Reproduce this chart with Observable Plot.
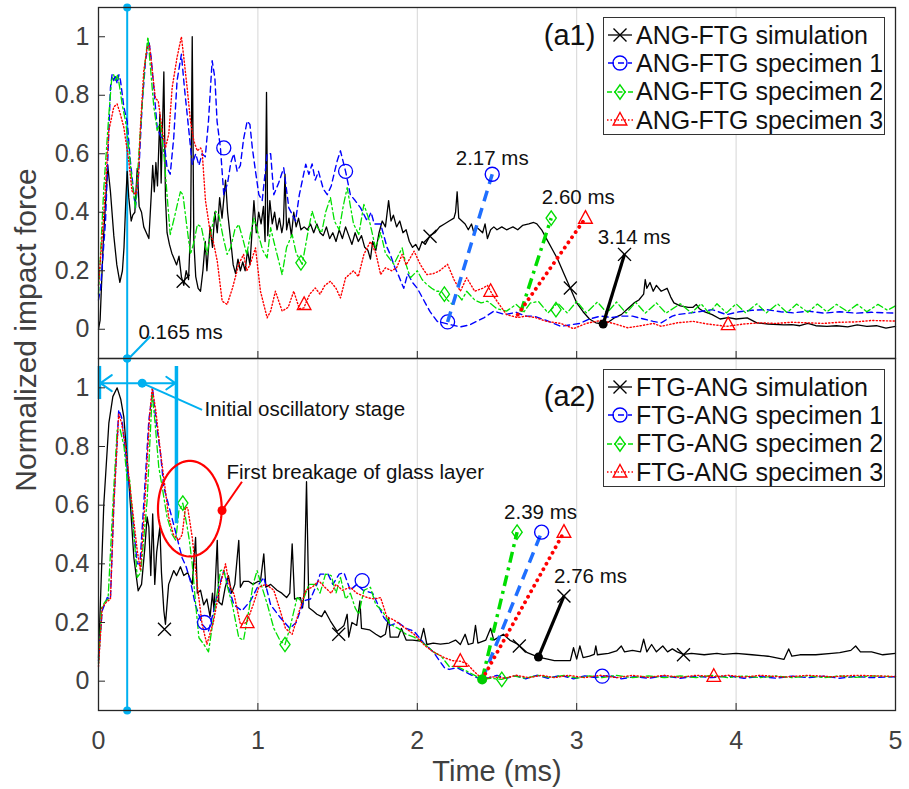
<!DOCTYPE html>
<html><head><meta charset="utf-8">
<script src="https://cdn.jsdelivr.net/npm/d3@7"></script>
<script src="https://cdn.jsdelivr.net/npm/@observablehq/plot@0.6"></script>
<style>
body{margin:0;background:#fff;}
#wrap{position:relative;width:909px;height:789px;font-family:"Liberation Sans",Arial,sans-serif;overflow:hidden;background:#fff;}
#topPanel,#botPanel{position:absolute;left:0;}
#topPanel{top:0;}
#botPanel{top:358px;}
.legend{position:absolute;left:603px;width:282px;height:118px;border:1.4px solid #333;background:#fff;box-sizing:border-box;}
.row{position:absolute;left:0;height:28px;display:flex;align-items:center;font-size:25px;color:#111;white-space:nowrap;}
.axlab{position:absolute;font-size:30px;color:#404040;white-space:nowrap;}
</style>
</head><body>
<div id="wrap">
  <div id="topPanel"></div>
  <div id="botPanel"></div>
  <div class="axlab" id="ylab" style="left:26px;top:330px;transform:translate(-50%,-50%) rotate(-90deg);">Normalized impact force</div>
  <div class="axlab" id="xlab" style="left:497px;top:771px;transform:translate(-50%,-50%);font-size:29px;">Time (ms)</div>
  <div class="legend" id="leg1" style="top:17px;"></div>
  <div class="legend" id="leg2" style="top:369px;"></div>
</div>
<script>
// ---------------- data ----------------
const xTicks = [0, 1, 2, 3, 4, 5];
const yTicks = [0, 0.2, 0.4, 0.6, 0.8, 1];
const gridTicks = [1, 2, 3, 4];

const legend1 = ["ANG-FTG simulation", "ANG-FTG specimen 1", "ANG-FTG specimen 2", "ANG-FTG specimen 3"];
const legend2 = ["FTG-ANG simulation", "FTG-ANG specimen 1", "FTG-ANG specimen 2", "FTG-ANG specimen 3"];

// (a1) ANG-FTG  [time ms, normalized force]
const a1Sim = [[0,0.0],[0.01,0.03],[0.03,0.3],[0.058,0.56],[0.075,0.47],[0.096,0.32],[0.115,0.22],[0.134,0.16],[0.15,0.2],[0.16,0.28],[0.172,0.45],[0.18,0.54],[0.19,0.45],[0.205,0.37],[0.215,0.39],[0.228,0.4],[0.243,0.55],[0.255,0.42],[0.27,0.4],[0.284,0.35],[0.3,0.33],[0.316,0.31],[0.33,0.45],[0.34,0.56],[0.35,0.47],[0.36,0.57],[0.37,0.49],[0.385,0.735],[0.393,0.5],[0.41,0.88],[0.42,0.45],[0.43,0.33],[0.445,0.29],[0.46,0.26],[0.475,0.24],[0.49,0.22],[0.505,0.25],[0.52,0.18],[0.535,0.15],[0.55,0.2],[0.565,0.17],[0.578,0.35],[0.588,1.0],[0.598,0.3],[0.61,0.18],[0.625,0.14],[0.64,0.13],[0.655,0.2],[0.67,0.3],[0.68,0.2],[0.7,0.35],[0.715,0.28],[0.73,0.4],[0.745,0.33],[0.76,0.45],[0.775,0.38],[0.797,0.51],[0.81,0.4],[0.83,0.3],[0.845,0.22],[0.86,0.19],[0.875,0.24],[0.89,0.2],[0.905,0.23],[0.92,0.2],[0.935,0.27],[0.95,0.22],[0.965,0.35],[0.975,0.44],[0.99,0.33],[1.005,0.4],[1.02,0.36],[1.035,0.42],[1.045,0.3],[1.054,0.81],[1.062,0.32],[1.075,0.44],[1.09,0.36],[1.105,0.4],[1.12,0.34],[1.135,0.38],[1.15,0.33],[1.16,0.36],[1.17,0.53],[1.18,0.34],[1.195,0.38],[1.21,0.32],[1.225,0.4],[1.24,0.35],[1.255,0.38],[1.27,0.34],[1.29,0.35],[1.31,0.34],[1.33,0.36],[1.35,0.33],[1.37,0.36],[1.39,0.33],[1.41,0.32],[1.43,0.35],[1.45,0.31],[1.47,0.33],[1.49,0.3],[1.51,0.34],[1.53,0.31],[1.55,0.35],[1.57,0.32],[1.59,0.29],[1.61,0.33],[1.63,0.3],[1.65,0.32],[1.67,0.28],[1.69,0.27],[1.706,0.24],[1.72,0.3],[1.74,0.27],[1.76,0.33],[1.78,0.37],[1.8,0.35],[1.82,0.44],[1.835,0.37],[1.85,0.39],[1.87,0.35],[1.89,0.37],[1.91,0.33],[1.93,0.34],[1.95,0.3],[1.97,0.28],[1.99,0.29],[2.01,0.27],[2.03,0.3],[2.05,0.29],[2.08,0.32],[2.11,0.33],[2.14,0.35],[2.17,0.36],[2.2,0.37],[2.23,0.38],[2.24,0.4],[2.25,0.47],[2.26,0.38],[2.28,0.37],[2.3,0.36],[2.32,0.34],[2.34,0.36],[2.355,0.33],[2.37,0.35],[2.39,0.34],[2.41,0.33],[2.425,0.36],[2.44,0.31],[2.46,0.34],[2.48,0.35],[2.5,0.34],[2.53,0.35],[2.56,0.34],[2.6,0.35],[2.63,0.34],[2.66,0.355],[2.7,0.36],[2.73,0.365],[2.75,0.36],[2.78,0.34],[2.81,0.31],[2.85,0.27],[2.88,0.24],[2.92,0.19],[2.96,0.14],[3.0,0.09],[3.04,0.06],[3.08,0.035],[3.12,0.022],[3.166,0.018],[3.2,0.025],[3.24,0.04],[3.28,0.05],[3.32,0.07],[3.36,0.09],[3.39,0.1],[3.42,0.12],[3.43,0.17],[3.44,0.14],[3.46,0.16],[3.48,0.13],[3.5,0.15],[3.53,0.13],[3.567,0.14],[3.59,0.11],[3.61,0.09],[3.65,0.08],[3.7,0.075],[3.73,0.075],[3.75,0.085],[3.77,0.07],[3.8,0.06],[3.85,0.05],[3.9,0.035],[3.95,0.04],[4.0,0.035],[4.07,0.039],[4.13,0.022],[4.2,0.018],[4.3,0.015],[4.35,0.016],[4.4,0.012],[4.45,0.02],[4.5,0.012],[4.57,0.01],[4.63,0.012],[4.7,0.008],[4.76,0.015],[4.82,0.01],[4.88,0.012],[4.94,0.004],[5.0,0.01]];

const a1S1 = [[0,0.1],[0.013,0.14],[0.044,0.37],[0.075,0.826],[0.085,0.87],[0.096,0.85],[0.105,0.87],[0.117,0.84],[0.128,0.87],[0.138,0.85],[0.159,0.76],[0.18,0.71],[0.2,0.575],[0.222,0.46],[0.232,0.415],[0.253,0.54],[0.274,0.77],[0.295,0.918],[0.316,0.986],[0.33,0.93],[0.347,0.826],[0.368,0.69],[0.39,0.66],[0.41,0.65],[0.43,0.552],[0.45,0.53],[0.472,0.655],[0.493,0.85],[0.52,0.94],[0.54,0.82],[0.567,0.678],[0.588,0.564],[0.61,0.6],[0.63,0.56],[0.65,0.6],[0.67,0.59],[0.69,0.712],[0.713,0.918],[0.73,0.86],[0.744,0.71],[0.765,0.62],[0.786,0.46],[0.81,0.5],[0.83,0.57],[0.849,0.6],[0.87,0.54],[0.89,0.56],[0.91,0.65],[0.933,0.712],[0.95,0.7],[0.965,0.62],[0.985,0.54],[1.006,0.46],[1.027,0.44],[1.058,0.6],[1.08,0.6],[1.1,0.46],[1.13,0.5],[1.162,0.552],[1.194,0.415],[1.236,0.37],[1.26,0.46],[1.3,0.564],[1.32,0.53],[1.34,0.565],[1.36,0.51],[1.38,0.54],[1.41,0.48],[1.435,0.46],[1.46,0.49],[1.497,0.575],[1.518,0.61],[1.55,0.54],[1.58,0.46],[1.61,0.44],[1.644,0.415],[1.686,0.37],[1.71,0.4],[1.73,0.36],[1.77,0.36],[1.81,0.28],[1.83,0.256],[1.86,0.21],[1.88,0.187],[1.915,0.14],[1.94,0.19],[1.97,0.16],[2.0,0.14],[2.04,0.1],[2.08,0.06],[2.125,0.027],[2.19,0.018],[2.27,0.008],[2.33,0.015],[2.42,0.04],[2.48,0.062],[2.55,0.05],[2.62,0.058],[2.68,0.045],[2.73,0.045],[2.81,0.03],[2.9,0.01],[2.96,0.015],[3.02,0.02],[3.08,0.035],[3.15,0.045],[3.22,0.04],[3.28,0.045],[3.35,0.045],[3.42,0.035],[3.48,0.027],[3.53,0.022],[3.6,0.045],[3.63,0.05],[3.73,0.057],[3.85,0.067],[3.94,0.05],[4.02,0.06],[4.1,0.065],[4.19,0.067],[4.28,0.06],[4.36,0.056],[4.45,0.062],[4.55,0.055],[4.65,0.06],[4.75,0.055],[4.85,0.058],[5.0,0.055]];

const a1S2 = [[0,0.12],[0.033,0.48],[0.065,0.735],[0.082,0.85],[0.095,0.87],[0.107,0.85],[0.12,0.87],[0.135,0.82],[0.148,0.77],[0.17,0.71],[0.19,0.62],[0.21,0.507],[0.232,0.415],[0.253,0.6],[0.274,0.77],[0.29,0.9],[0.31,1.0],[0.325,0.9],[0.347,0.76],[0.368,0.68],[0.389,0.71],[0.41,0.6],[0.43,0.46],[0.45,0.324],[0.475,0.38],[0.5,0.44],[0.514,0.47],[0.53,0.46],[0.55,0.37],[0.577,0.256],[0.6,0.3],[0.62,0.358],[0.645,0.35],[0.68,0.256],[0.705,0.33],[0.734,0.404],[0.755,0.39],[0.78,0.32],[0.807,0.256],[0.83,0.28],[0.855,0.34],[0.88,0.358],[0.905,0.31],[0.93,0.256],[0.955,0.33],[0.975,0.38],[1.0,0.33],[1.03,0.27],[1.058,0.244],[1.08,0.347],[1.1,0.3],[1.152,0.187],[1.18,0.28],[1.215,0.324],[1.24,0.26],[1.278,0.222],[1.31,0.32],[1.34,0.404],[1.37,0.35],[1.4,0.33],[1.425,0.4],[1.455,0.45],[1.48,0.37],[1.51,0.34],[1.535,0.42],[1.56,0.484],[1.6,0.36],[1.633,0.324],[1.665,0.427],[1.7,0.37],[1.738,0.278],[1.77,0.33],[1.8,0.26],[1.853,0.222],[1.905,0.278],[1.93,0.22],[1.957,0.176],[2.0,0.2],[2.03,0.17],[2.06,0.153],[2.09,0.14],[2.12,0.13],[2.15,0.13],[2.19,0.1],[2.22,0.085],[2.25,0.12],[2.28,0.1],[2.31,0.13],[2.36,0.1],[2.4,0.09],[2.44,0.096],[2.5,0.07],[2.56,0.062],[2.62,0.085],[2.67,0.06],[2.71,0.09],[2.76,0.095],[2.82,0.056],[2.88,0.09],[2.94,0.056],[3.0,0.095],[3.06,0.056],[3.13,0.093],[3.19,0.056],[3.25,0.093],[3.31,0.055],[3.37,0.092],[3.43,0.055],[3.5,0.09],[3.56,0.055],[3.65,0.087],[3.72,0.056],[3.78,0.087],[3.83,0.056],[3.88,0.087],[3.94,0.056],[4.0,0.087],[4.06,0.056],[4.13,0.087],[4.19,0.056],[4.26,0.087],[4.32,0.057],[4.38,0.086],[4.45,0.058],[4.51,0.086],[4.57,0.06],[4.63,0.085],[4.7,0.06],[4.76,0.085],[4.82,0.06],[4.89,0.085],[4.95,0.065],[5.0,0.08]];

const a1S3 = [[0,0.15],[0.033,0.39],[0.065,0.68],[0.096,0.76],[0.117,0.77],[0.135,0.74],[0.159,0.69],[0.19,0.575],[0.21,0.473],[0.235,0.46],[0.25,0.52],[0.263,0.69],[0.284,0.884],[0.305,0.963],[0.32,0.97],[0.34,0.87],[0.357,0.79],[0.375,0.78],[0.4,0.68],[0.42,0.62],[0.441,0.667],[0.462,0.826],[0.493,0.93],[0.52,1.0],[0.535,0.93],[0.556,0.826],[0.577,0.712],[0.598,0.644],[0.62,0.61],[0.64,0.62],[0.65,0.61],[0.671,0.44],[0.703,0.324],[0.72,0.3],[0.745,0.233],[0.776,0.096],[0.807,0.085],[0.84,0.14],[0.88,0.222],[0.91,0.256],[0.93,0.2],[0.95,0.22],[0.985,0.278],[1.016,0.13],[1.058,0.039],[1.08,0.062],[1.11,0.13],[1.152,0.062],[1.19,0.075],[1.225,0.13],[1.26,0.07],[1.288,0.073],[1.325,0.12],[1.36,0.141],[1.39,0.12],[1.42,0.15],[1.455,0.164],[1.49,0.14],[1.518,0.107],[1.55,0.176],[1.6,0.2],[1.63,0.18],[1.665,0.256],[1.706,0.3],[1.74,0.26],[1.77,0.187],[1.8,0.21],[1.84,0.2],[1.87,0.21],[1.905,0.256],[1.93,0.22],[1.98,0.267],[2.02,0.22],[2.06,0.187],[2.1,0.19],[2.14,0.2],[2.19,0.222],[2.23,0.17],[2.27,0.13],[2.31,0.176],[2.36,0.13],[2.41,0.14],[2.44,0.15],[2.47,0.12],[2.5,0.096],[2.56,0.05],[2.63,0.04],[2.68,0.045],[2.74,0.04],[2.81,0.027],[2.9,0.02],[2.98,0.002],[3.06,0.02],[3.15,0.03],[3.23,0.02],[3.32,0.005],[3.4,0.012],[3.48,0.02],[3.53,0.01],[3.63,0.022],[3.73,0.027],[3.82,0.018],[3.94,0.01],[4.05,0.018],[4.15,0.022],[4.25,0.02],[4.35,0.024],[4.45,0.022],[4.55,0.02],[4.65,0.024],[4.75,0.025],[4.85,0.03],[5.0,0.028]];

const a1SimMarks = [[0.531,0.164],[2.08,0.318],[2.96,0.141]];
const a1S1Marks = [[0.786,0.62],[1.55,0.54],[2.19,0.025]];
const a1S2Marks = [[1.27,0.227],[2.17,0.12],[2.87,0.067]];
const a1S3Marks = [[1.29,0.085],[2.46,0.13],[3.95,0.016]];

// break annotation segments [t0, v0, t1, v1]: specimen 1, 2, 3, simulation
const a1Breaks = [[2.19,0.025,2.47,0.53],[2.65,0.06,2.84,0.38],[2.63,0.05,3.055,0.38],[3.166,0.018,3.30,0.256]];
const a1BreakText = ["2.17 ms", "2.60 ms", "3.14 ms"];
const a1BreakTextPos = [[2.47,0.585],[3.01,0.45],[3.36,0.315]];
const a1Dot = [[3.166,0.018]];

// (a2) FTG-ANG
const a2Sim = [[0,0.08],[0.033,0.6],[0.065,0.88],[0.09,0.97],[0.117,1.0],[0.14,0.96],[0.159,0.9],[0.19,0.685],[0.222,0.42],[0.249,0.308],[0.27,0.33],[0.29,0.45],[0.305,0.56],[0.316,0.525],[0.328,0.36],[0.34,0.57],[0.353,0.33],[0.365,0.44],[0.385,0.525],[0.395,0.37],[0.41,0.24],[0.42,0.194],[0.44,0.33],[0.472,0.377],[0.49,0.36],[0.514,0.39],[0.535,0.36],[0.56,0.37],[0.588,0.33],[0.609,0.49],[0.62,0.3],[0.64,0.31],[0.66,0.26],[0.68,0.28],[0.7,0.22],[0.715,0.3],[0.725,0.24],[0.745,0.48],[0.755,0.27],[0.775,0.26],[0.795,0.32],[0.815,0.36],[0.835,0.3],[0.855,0.33],[0.88,0.48],[0.89,0.32],[0.91,0.34],[0.943,0.34],[0.97,0.33],[1.0,0.34],[1.016,0.34],[1.037,0.434],[1.05,0.32],[1.08,0.33],[1.12,0.31],[1.15,0.3],[1.18,0.285],[1.2,0.3],[1.215,0.468],[1.23,0.28],[1.267,0.285],[1.28,0.25],[1.29,0.3],[1.305,0.68],[1.32,0.25],[1.345,0.24],[1.37,0.228],[1.4,0.22],[1.42,0.24],[1.455,0.205],[1.497,0.17],[1.52,0.18],[1.54,0.19],[1.56,0.228],[1.57,0.15],[1.59,0.2],[1.62,0.19],[1.64,0.274],[1.65,0.18],[1.7,0.175],[1.74,0.16],[1.77,0.15],[1.8,0.16],[1.82,0.217],[1.83,0.15],[1.88,0.15],[1.9,0.18],[1.93,0.14],[1.97,0.14],[2.02,0.137],[2.04,0.18],[2.06,0.125],[2.1,0.13],[2.145,0.126],[2.2,0.13],[2.24,0.14],[2.27,0.125],[2.3,0.16],[2.32,0.125],[2.35,0.13],[2.365,0.19],[2.38,0.13],[2.43,0.14],[2.46,0.18],[2.48,0.14],[2.54,0.16],[2.58,0.14],[2.63,0.126],[2.69,0.097],[2.76,0.082],[2.86,0.07],[2.96,0.07],[2.98,0.114],[3.0,0.075],[3.02,0.12],[3.04,0.08],[3.08,0.085],[3.11,0.091],[3.12,0.12],[3.13,0.09],[3.2,0.095],[3.25,0.103],[3.28,0.12],[3.3,0.1],[3.35,0.105],[3.4,0.1],[3.42,0.143],[3.44,0.1],[3.47,0.125],[3.5,0.1],[3.54,0.12],[3.57,0.1],[3.6,0.11],[3.63,0.1],[3.67,0.091],[3.72,0.095],[3.8,0.09],[3.88,0.095],[3.92,0.091],[4.0,0.095],[4.1,0.09],[4.2,0.085],[4.3,0.074],[4.33,0.11],[4.35,0.085],[4.4,0.09],[4.5,0.09],[4.6,0.095],[4.65,0.097],[4.72,0.105],[4.75,0.12],[4.78,0.1],[4.85,0.1],[4.92,0.09],[5.0,0.095]];

const a2S1 = [[0,0.07],[0.023,0.24],[0.055,0.285],[0.075,0.28],[0.096,0.6],[0.127,0.925],[0.145,0.9],[0.17,0.776],[0.19,0.685],[0.21,0.58],[0.243,0.4],[0.26,0.4],[0.284,0.605],[0.316,0.89],[0.34,0.993],[0.36,0.89],[0.389,0.776],[0.41,0.66],[0.44,0.6],[0.483,0.51],[0.525,0.42],[0.55,0.39],[0.577,0.34],[0.608,0.26],[0.65,0.194],[0.69,0.17],[0.723,0.24],[0.755,0.32],[0.786,0.377],[0.81,0.33],[0.85,0.26],[0.9,0.24],[0.954,0.274],[1.006,0.33],[1.037,0.354],[1.08,0.26],[1.14,0.217],[1.2,0.18],[1.24,0.2],[1.288,0.274],[1.33,0.28],[1.37,0.33],[1.39,0.365],[1.44,0.365],[1.47,0.33],[1.51,0.365],[1.54,0.37],[1.58,0.31],[1.62,0.33],[1.66,0.31],[1.72,0.3],[1.79,0.217],[1.83,0.19],[1.88,0.2],[1.93,0.18],[1.98,0.17],[2.04,0.13],[2.1,0.1],[2.17,0.046],[2.2,0.04],[2.25,0.046],[2.33,0.023],[2.4,0.006],[2.45,0.012],[2.5,0.02],[2.56,0.01],[2.62,0.018],[2.68,0.008],[2.75,0.02],[2.82,0.01],[2.9,0.02],[2.98,0.008],[3.05,0.018],[3.12,0.012],[3.2,0.02],[3.28,0.008],[3.36,0.015],[3.45,0.01],[3.55,0.018],[3.65,0.01],[3.75,0.017],[3.85,0.012],[3.95,0.018],[4.05,0.01],[4.15,0.016],[4.25,0.01],[4.35,0.017],[4.45,0.012],[4.55,0.017],[4.65,0.01],[4.75,0.016],[4.85,0.012],[5.0,0.015]];

const a2S2 = [[0,0.06],[0.02,0.25],[0.04,0.27],[0.06,0.28],[0.096,0.66],[0.117,0.856],[0.135,0.86],[0.16,0.8],[0.18,0.685],[0.195,0.69],[0.215,0.55],[0.243,0.354],[0.265,0.37],[0.305,0.616],[0.337,0.98],[0.355,0.88],[0.378,0.73],[0.4,0.66],[0.43,0.56],[0.462,0.5],[0.485,0.48],[0.504,0.58],[0.529,0.607],[0.555,0.53],[0.57,0.48],[0.588,0.4],[0.61,0.26],[0.63,0.148],[0.66,0.126],[0.69,0.1],[0.734,0.26],[0.765,0.377],[0.785,0.38],[0.81,0.32],[0.84,0.26],[0.88,0.148],[0.91,0.14],[0.943,0.24],[0.97,0.33],[0.995,0.377],[1.02,0.33],[1.06,0.26],[1.1,0.18],[1.14,0.137],[1.17,0.125],[1.2,0.18],[1.246,0.285],[1.28,0.27],[1.32,0.33],[1.36,0.33],[1.39,0.3],[1.424,0.365],[1.46,0.36],[1.49,0.3],[1.518,0.354],[1.55,0.28],[1.58,0.3],[1.61,0.25],[1.633,0.228],[1.665,0.31],[1.706,0.32],[1.74,0.26],[1.78,0.24],[1.83,0.194],[1.88,0.18],[1.93,0.16],[1.98,0.15],[2.02,0.137],[2.06,0.12],[2.1,0.1],[2.15,0.085],[2.2,0.05],[2.25,0.05],[2.31,0.034],[2.36,0.02],[2.4,0.006],[2.46,0.01],[2.53,0.006],[2.6,0.018],[2.68,0.01],[2.76,0.02],[2.84,0.012],[2.92,0.02],[3.0,0.01],[3.08,0.018],[3.16,0.012],[3.25,0.02],[3.35,0.012],[3.45,0.018],[3.55,0.012],[3.65,0.018],[3.75,0.012],[3.85,0.02],[3.95,0.012],[4.05,0.018],[4.15,0.012],[4.25,0.018],[4.35,0.012],[4.45,0.018],[4.55,0.012],[4.65,0.018],[4.75,0.013],[4.85,0.018],[5.0,0.015]];

const a2S3 = [[0,0.05],[0.023,0.25],[0.05,0.27],[0.075,0.28],[0.096,0.6],[0.127,0.91],[0.145,0.88],[0.17,0.8],[0.2,0.65],[0.243,0.445],[0.263,0.377],[0.29,0.6],[0.32,0.9],[0.337,1.0],[0.36,0.92],[0.389,0.78],[0.415,0.67],[0.44,0.56],[0.47,0.5],[0.504,0.48],[0.525,0.5],[0.546,0.594],[0.56,0.59],[0.588,0.49],[0.619,0.33],[0.65,0.194],[0.68,0.126],[0.72,0.2],[0.765,0.33],[0.797,0.4],[0.82,0.33],[0.85,0.297],[0.89,0.194],[0.93,0.2],[0.97,0.26],[1.006,0.32],[1.05,0.33],[1.1,0.31],[1.14,0.24],[1.173,0.18],[1.215,0.16],[1.26,0.24],[1.3,0.31],[1.34,0.32],[1.382,0.342],[1.42,0.32],[1.46,0.3],[1.49,0.33],[1.53,0.31],[1.58,0.32],[1.62,0.3],[1.686,0.285],[1.73,0.28],[1.77,0.285],[1.81,0.217],[1.85,0.21],[1.9,0.19],[1.98,0.16],[2.05,0.12],[2.1,0.1],[2.17,0.08],[2.22,0.07],[2.27,0.068],[2.31,0.06],[2.355,0.034],[2.41,0.006],[2.47,0.015],[2.55,0.01],[2.62,0.02],[2.7,0.012],[2.78,0.02],[2.86,0.012],[2.95,0.02],[3.05,0.012],[3.15,0.02],[3.25,0.012],[3.35,0.02],[3.45,0.013],[3.55,0.02],[3.65,0.013],[3.75,0.02],[3.86,0.015],[3.95,0.02],[4.05,0.014],[4.15,0.02],[4.3,0.014],[4.45,0.02],[4.6,0.015],[4.75,0.02],[5.0,0.016]];

const a2SimMarks = [[0.414,0.177],[1.507,0.16],[2.64,0.12],[3.67,0.09]];
const a2S1Marks = [[0.665,0.2],[1.654,0.343],[3.16,0.017]];
const a2S2Marks = [[0.529,0.607],[1.17,0.125],[2.53,0.006]];
const a2S3Marks = [[0.933,0.2],[2.27,0.068],[3.86,0.017]];

const a2Breaks = [[2.407,0.006,2.78,0.508],[2.407,0.006,2.626,0.508],[2.407,0.006,2.92,0.508],[2.76,0.082,2.92,0.29]];
const a2BreakText = ["2.39 ms", "2.76 ms"];
const a2BreakTextPos = [[2.773,0.576],[3.087,0.356]];
const a2GreenDot = [[2.407,0.006]];
const a2BlackDot = [[2.76,0.082]];

// shared cyan marker at 0.165 ms
const markerTime = [0.18];
const markerText = "0.165 ms";
const markerTextPos = [[0.251,-0.012]];
const markerLeader = [[0.19,-0.1,0.326,-0.024]];
// initial oscillatory stage (panel a2)
const stageBars = [[0.006,0.96,1.073],[0.489,0.537,1.073]];
const stageMid = [[0.274,1.016]];
const stageEnds = [0.012, 0.482];
const stageLeader = [[0.274,1.016,0.65,0.925]];
const stageText = "Initial oscillatory stage";
const stageTextPos = [[0.665,0.925]];
// first breakage ellipse
const breakEllipse = {cx: 0.573, cy: 0.588, rx: 0.2, ry: 0.163};
const breakDot = [[0.775,0.582]];
const breakLeader = [[0.775,0.582,0.9,0.68]];
const breakText = "First breakage of glass layer";
const breakTextPos = [[0.803,0.712]];

// ---------------- styles ----------------
const FONT = '"Liberation Sans", Arial, sans-serif';
const CYAN = "#00b0f0";
const BLUE = "#0000ff", GREEN = "#00e000", RED = "#ff0000";
const sty = {
  sim: {stroke: "#000", strokeWidth: 1.3},
  s1: {stroke: BLUE, strokeWidth: 1.4, strokeDasharray: "6,4"},
  s2: {stroke: GREEN, strokeWidth: 1.3, strokeDasharray: "7,3,2,3"},
  s3: {stroke: RED, strokeWidth: 1.4, strokeDasharray: "1.2,2.2"}
};
const thick = [
  {stroke: "#1f6fff", strokeWidth: 3.5, strokeDasharray: "11,7"},
  {stroke: "#00dd00", strokeWidth: 3.5, strokeDasharray: "11,5,3,5"},
  {stroke: RED, strokeWidth: 3.8, strokeDasharray: "0.1,6.2"},
  {stroke: "#000", strokeWidth: 3.2}
];
const symCross = {draw(c, s) {const r = Math.sqrt(s / Math.PI); c.moveTo(-r, -r); c.lineTo(r, r); c.moveTo(r, -r); c.lineTo(-r, r);}};
const symDiamond = {draw(c, s) {const r = Math.sqrt(s / Math.PI); c.moveTo(0, -1.2 * r); c.lineTo(0.85 * r, 0); c.lineTo(0, 1.2 * r); c.lineTo(-0.85 * r, 0); c.closePath();}};
const symTriangle = {draw(c, s) {const r = Math.sqrt(s / Math.PI); c.moveTo(0, -1.1 * r); c.lineTo(r, 0.75 * r); c.lineTo(-r, 0.75 * r); c.closePath();}};
const mk = {
  sim: {symbol: symCross, r: 6.5, stroke: "#000"},
  s1: {symbol: "circle", r: 7, stroke: BLUE},
  s2: {symbol: symDiamond, r: 6, stroke: "#00dd00"},
  s3: {symbol: symTriangle, r: 6.8, stroke: RED}
};

const X = d => d[0], Y = d => d[1];
const fmtY = d => String(+d.toFixed(1));

function seriesMarks(sets) {
  const out = [];
  for (const [data, key] of sets) out.push(Plot.line(data, {x: X, y: Y, ...sty[key]}));
  for (const [, key, marks] of sets) out.push(Plot.dot(marks, {x: X, y: Y, fill: "none", strokeWidth: 1.3, ...mk[key]}));
  return out;
}
const order = ["s1", "s2", "s3", "sim"];
function breakMarks(breaks) {
  const out = [];
  breaks.forEach((b, i) => {
    out.push(Plot.link([b], {x1: d => d[0], y1: d => d[1], x2: d => d[2], y2: d => d[3], strokeLinecap: i === 2 ? "round" : "butt", ...thick[i]}));
  });
  breaks.forEach((b, i) => {
    out.push(Plot.dot([b], {x: d => d[2], y: d => d[3], fill: "none", strokeWidth: 1.4, ...mk[order[i]]}));
  });
  return out;
}
function baseMarks() {
  return [
    Plot.gridX({ticks: gridTicks, stroke: "#d6d6d6", strokeOpacity: 1, strokeWidth: 1})
  ];
}
function axisMarks(showX) {
  return [
    Plot.axisY({ticks: yTicks, tickSize: -7, tickPadding: 16, tickFormat: fmtY, fontSize: 25, stroke: "#262626", fill: "#404040", label: null}),
    Plot.axisX({ticks: xTicks, tickSize: -7, tickPadding: 28, fontSize: 25, stroke: "#262626", fill: "#404040", label: null,
      tickFormat: showX ? (d => String(d)) : (() => "")}),
    Plot.frame({stroke: "#262626", strokeWidth: 1.3})
  ];
}
const cyanLine = [
  Plot.ruleX(markerTime, {x: d => d, y1: -0.1, y2: 1.1, stroke: CYAN, strokeWidth: 2})
];

// ---------------- panel a1 ----------------
const plotA1 = Plot.plot({
  width: 909, height: 358, marginTop: 7, marginBottom: 0, marginLeft: 98, marginRight: 14,
  style: {fontFamily: FONT, fontSize: "25px", background: "transparent", overflow: "visible"},
  x: {domain: [0, 5]}, y: {domain: [-0.1, 1.1]},
  marks: [
    ...baseMarks(),
    ...cyanLine,
    Plot.dot(markerTime.flatMap(t => [[t, 1.1], [t, -0.1]]), {x: X, y: Y, r: 4, fill: CYAN}),
    Plot.link(markerLeader, {x1: d => d[0], y1: d => d[1], x2: d => d[2], y2: d => d[3], stroke: CYAN, strokeWidth: 2}),
    Plot.text(markerTextPos, {x: X, y: Y, text: () => markerText, textAnchor: "start", fontSize: 20.5, fill: "#111"}),
    ...seriesMarks([[a1Sim, "sim", a1SimMarks], [a1S1, "s1", a1S1Marks], [a1S2, "s2", a1S2Marks], [a1S3, "s3", a1S3Marks]]),
    ...breakMarks(a1Breaks),
    Plot.dot(a1Dot, {x: X, y: Y, r: 4.5, fill: "#000"}),
    Plot.text(a1BreakTextPos, {x: X, y: Y, text: (d, i) => a1BreakText[i], fontSize: 20.5, fill: "#111"}),
    Plot.text([[2.955, 1.003]], {x: X, y: Y, text: () => "(a1)", fontSize: 29, fill: "#111"}),
    ...axisMarks(false)
  ]
});
document.getElementById("topPanel").append(plotA1);

// ---------------- panel a2 ----------------
const ellipsePts = d3.range(0, 361, 4).map(a => [breakEllipse.cx + breakEllipse.rx * Math.cos(a * Math.PI / 180), breakEllipse.cy + breakEllipse.ry * Math.sin(a * Math.PI / 180)]);
const plotA2 = Plot.plot({
  width: 909, height: 431, marginTop: 0, marginBottom: 79, marginLeft: 98, marginRight: 14,
  style: {fontFamily: FONT, fontSize: "25px", background: "transparent", overflow: "visible"},
  x: {domain: [0, 5]}, y: {domain: [-0.1, 1.1]},
  marks: [
    ...baseMarks(),
    ...cyanLine,
    Plot.dot(markerTime.flatMap(t => [[t, 1.1], [t, -0.1]]), {x: X, y: Y, r: 4, fill: CYAN}),
    ...seriesMarks([[a2Sim, "sim", a2SimMarks], [a2S1, "s1", a2S1Marks], [a2S2, "s2", a2S2Marks], [a2S3, "s3", a2S3Marks]]),
    // initial oscillatory stage
    Plot.ruleX(stageBars, {x: d => d[0], y1: d => d[1], y2: d => d[2], stroke: CYAN, strokeWidth: 3.5}),
    Plot.arrow(stageEnds, {x1: () => stageMid[0][0], y1: () => stageMid[0][1], x2: d => d, y2: () => stageMid[0][1], stroke: CYAN, strokeWidth: 2, headLength: 11, headAngle: 70}),
    Plot.link(stageLeader, {x1: d => d[0], y1: d => d[1], x2: d => d[2], y2: d => d[3], stroke: CYAN, strokeWidth: 2}),
    Plot.dot(stageMid, {x: X, y: Y, r: 4.5, fill: CYAN}),
    Plot.text(stageTextPos, {x: X, y: Y, text: () => stageText, textAnchor: "start", fontSize: 20.5, fill: "#111"}),
    // first breakage
    Plot.line(ellipsePts, {x: X, y: Y, stroke: RED, strokeWidth: 2.2}),
    Plot.link(breakLeader, {x1: d => d[0], y1: d => d[1], x2: d => d[2], y2: d => d[3], stroke: RED, strokeWidth: 2}),
    Plot.dot(breakDot, {x: X, y: Y, r: 4.5, fill: RED}),
    Plot.text(breakTextPos, {x: X, y: Y, text: () => breakText, textAnchor: "start", fontSize: 20.5, fill: "#111"}),
    // breakage times
    ...breakMarks(a2Breaks),
    Plot.dot(a2GreenDot, {x: X, y: Y, r: 5, fill: "#00cc00"}),
    Plot.dot(a2BlackDot, {x: X, y: Y, r: 4.5, fill: "#000"}),
    Plot.text(a2BreakTextPos, {x: X, y: Y, text: (d, i) => a2BreakText[i], fontSize: 20.5, fill: "#111"}),
    Plot.text([[2.955, 0.97]], {x: X, y: Y, text: () => "(a2)", fontSize: 29, fill: "#111"}),
    ...axisMarks(true)
  ]
});
document.getElementById("botPanel").append(plotA2);

// ---------------- legends ----------------
const legendIcons = [
  '<line x1="3" x2="27" y1="14" y2="14" stroke="#000" stroke-width="1.3"/><path d="M8.5,7.5L21.5,20.5M21.5,7.5L8.5,20.5" stroke="#000" stroke-width="1.4" fill="none"/>',
  '<line x1="3" x2="27" y1="14" y2="14" stroke="' + BLUE + '" stroke-width="1.3" stroke-dasharray="6,4"/><circle cx="15" cy="14" r="7" stroke="' + BLUE + '" stroke-width="1.4" fill="none"/>',
  '<line x1="2" x2="28" y1="14" y2="14" stroke="' + GREEN + '" stroke-width="1.3" stroke-dasharray="5,2,1.5,2"/><path d="M15,6.8L20.1,14L15,21.2L9.9,14Z" stroke="#00dd00" stroke-width="1.4" fill="none"/>',
  '<line x1="2" x2="28" y1="14" y2="14" stroke="' + RED + '" stroke-width="1.5" stroke-dasharray="1.5,2"/><path d="M15,6.5L21.8,19L8.2,19Z" stroke="' + RED + '" stroke-width="1.4" fill="none"/>'
];
function buildLegend(id, labels) {
  const el = document.getElementById(id);
  const rowTops = [3, 31.3, 59.7, 88];
  labels.forEach((lab, i) => {
    const row = document.createElement("div");
    row.className = "row";
    row.style.top = rowTops[i] + "px";
    row.innerHTML = '<svg width="30" height="28" viewBox="0 0 30 28" style="display:block;margin-left:1px">' + legendIcons[i] + '</svg><span style="margin-left:1px">' + lab + '</span>';
    el.append(row);
  });
}
buildLegend("leg1", legend1);
buildLegend("leg2", legend2);
</script>
</body></html>
